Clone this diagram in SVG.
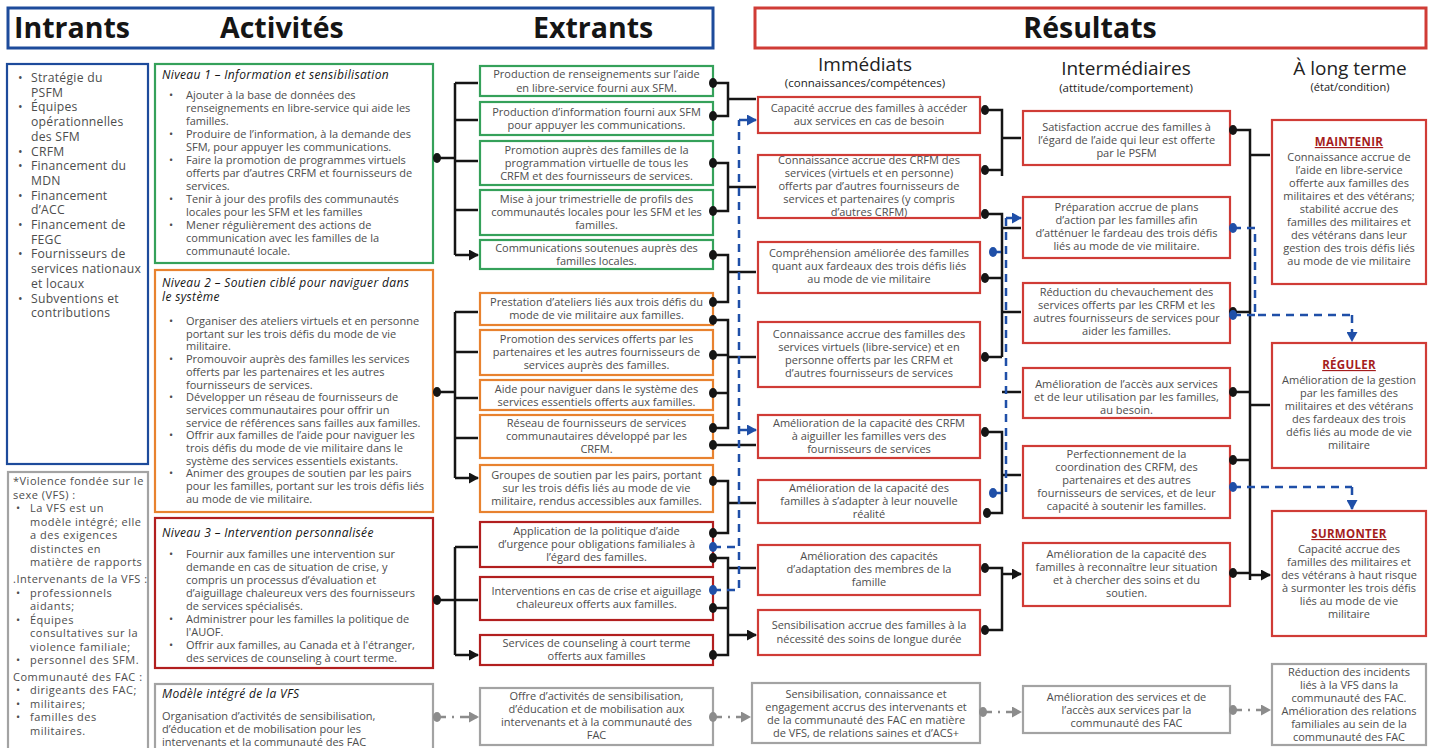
<svg xmlns="http://www.w3.org/2000/svg" width="1434" height="748" viewBox="0 0 1434 748">
<style>
text{font-family:"Open Sans","Liberation Sans",sans-serif;font-size:11px;fill:#4d4d4d}
.c{text-anchor:middle}
.hd{font-weight:700;font-size:28.5px;fill:#151515}
.sh{font-size:19px;fill:#222}
.ss{font-size:11.5px;fill:#222}
.ti{font-style:italic;font-size:12px;letter-spacing:0.35px;fill:#151515}
.in{font-size:12.2px;letter-spacing:0.25px}
.nt{font-size:11px;letter-spacing:0.5px}
.lt{font-weight:700;font-size:11.5px;letter-spacing:0.3px;fill:#a51d1d;text-decoration:underline}
.bx{fill:#fff;stroke-width:2.2}
.bl{stroke:#1d4b9b}.gn{stroke:#35a15a}.or{stroke:#e8822f}.dr{stroke:#b21f1f}.rd{stroke:#d03c36}.gy{stroke:#a3a3a3}
.ln{fill:none;stroke:#151515;stroke-width:2.5}
.ar{fill:none;stroke:#151515;stroke-width:2.5;marker-end:url(#ab)}
.bd{fill:none;stroke:#1f4fa8;stroke-width:2.5;stroke-dasharray:8 6}
.bda{fill:none;stroke:#1f4fa8;stroke-width:2.5;stroke-dasharray:8 6;marker-end:url(#abl)}
.gd{fill:none;stroke:#8c8c8c;stroke-width:2.5;stroke-dasharray:9 6 2 6;marker-end:url(#agr)}
.dk{fill:#151515}.db{fill:#1f4fa8}.dg{fill:#8c8c8c}
</style>
<defs>
<marker id="ab" markerUnits="userSpaceOnUse" markerWidth="10" markerHeight="11" refX="9" refY="5.5" orient="auto"><path d="M0,0 L10,5.5 L0,11 z" fill="#151515"/></marker>
<marker id="abl" markerUnits="userSpaceOnUse" markerWidth="10" markerHeight="11" refX="9" refY="5.5" orient="auto"><path d="M0,0 L10,5.5 L0,11 z" fill="#1f4fa8"/></marker>
<marker id="agr" markerUnits="userSpaceOnUse" markerWidth="10" markerHeight="11" refX="9" refY="5.5" orient="auto"><path d="M0,0 L10,5.5 L0,11 z" fill="#8c8c8c"/></marker>
</defs>
<rect width="1434" height="748" fill="#fff"/>

<g id="headers">
<rect x="8" y="8" width="705" height="40" fill="#fff" stroke="#1d4b9b" stroke-width="3"/>
<text class="hd" x="14" y="38">Intrants</text>
<text class="hd" x="220" y="38">Activités</text>
<text class="hd" x="533" y="38">Extrants</text>
<rect x="755" y="8" width="671" height="40" fill="#fff" stroke="#d03c36" stroke-width="3"/>
<text class="hd c" x="1090" y="38">Résultats</text>
<text class="sh c" x="865" y="71">Immédiats</text>
<text class="ss c" x="865" y="87">(connaissances/compétences)</text>
<text class="sh c" x="1126" y="75">Intermédiaires</text>
<text class="ss c" x="1126" y="92">(attitude/comportement)</text>
<text class="sh c" x="1350" y="75">À long terme</text>
<text class="ss c" x="1350" y="91" style="font-size:11px">(état/condition)</text>
</g>

<g id="intrants">
<rect class="bx bl" x="7" y="64" width="141" height="400"/>
<text class="in"><tspan x="18" y="82">•</tspan><tspan x="31" y="82">Stratégie du</tspan><tspan x="31" y="96.7">PSFM</tspan>
<tspan x="18" y="111.4">•</tspan><tspan x="31" y="111.4">Équipes</tspan><tspan x="31" y="126.1">opérationnelles</tspan><tspan x="31" y="140.8">des SFM</tspan>
<tspan x="18" y="155.5">•</tspan><tspan x="31" y="155.5">CRFM</tspan>
<tspan x="18" y="170.2">•</tspan><tspan x="31" y="170.2">Financement du</tspan><tspan x="31" y="184.9">MDN</tspan>
<tspan x="18" y="199.6">•</tspan><tspan x="31" y="199.6">Financement</tspan><tspan x="31" y="214.3">d’ACC</tspan>
<tspan x="18" y="229">•</tspan><tspan x="31" y="229">Financement de</tspan><tspan x="31" y="243.7">FEGC</tspan>
<tspan x="18" y="258.4">•</tspan><tspan x="31" y="258.4">Fournisseurs de</tspan><tspan x="31" y="273.1">services nationaux</tspan><tspan x="31" y="287.8">et locaux</tspan>
<tspan x="18" y="302.5">•</tspan><tspan x="31" y="302.5">Subventions et</tspan><tspan x="31" y="317.2">contributions</tspan></text>
</g>

<g id="vfs-note">
<rect class="bx gy" x="8" y="472" width="140" height="280"/>
<text class="nt"><tspan x="13" y="485">*Violence fondée sur le</tspan><tspan x="13" y="498.5">sexe (VFS) :</tspan>
<tspan x="16" y="512">•</tspan><tspan x="30" y="512">La VFS est un</tspan><tspan x="30" y="525.5">modèle intégré; elle</tspan><tspan x="30" y="539">a des exigences</tspan><tspan x="30" y="552.5">distinctes en</tspan><tspan x="30" y="566">matière de rapports</tspan>
<tspan x="13" y="583">.Intervenants de la VFS :</tspan>
<tspan x="16" y="596.5">•</tspan><tspan x="30" y="596.5">professionnels</tspan><tspan x="30" y="610">aidants;</tspan>
<tspan x="16" y="623.5">•</tspan><tspan x="30" y="623.5">Équipes</tspan><tspan x="30" y="637">consultatives sur la</tspan><tspan x="30" y="650.5">violence familiale;</tspan>
<tspan x="16" y="664">•</tspan><tspan x="30" y="664">personnel des SFM.</tspan>
<tspan x="13" y="680.5">Communauté des FAC :</tspan>
<tspan x="16" y="694">•</tspan><tspan x="30" y="694">dirigeants des FAC;</tspan>
<tspan x="16" y="707.5">•</tspan><tspan x="30" y="707.5">militaires;</tspan>
<tspan x="16" y="721">•</tspan><tspan x="30" y="721">familles des</tspan><tspan x="30" y="734.5">militaires.</tspan></text>
</g>

<g id="niveau1">
<rect class="bx gn" x="155" y="64" width="278" height="199"/>
<text class="ti" x="162" y="79">Niveau 1 – Information et sensibilisation</text>
<text><tspan x="169" y="99">•</tspan><tspan x="186" y="99">Ajouter à la base de données des</tspan><tspan x="186" y="112">renseignements en libre-service qui aide les</tspan><tspan x="186" y="125">familles.</tspan>
<tspan x="169" y="138">•</tspan><tspan x="186" y="138">Produire de l’information, à la demande des</tspan><tspan x="186" y="151">SFM, pour appuyer les communications.</tspan>
<tspan x="169" y="164">•</tspan><tspan x="186" y="164">Faire la promotion de programmes virtuels</tspan><tspan x="186" y="177">offerts par d’autres CRFM et fournisseurs de</tspan><tspan x="186" y="190">services.</tspan>
<tspan x="169" y="203">•</tspan><tspan x="186" y="203">Tenir à jour des profils des communautés</tspan><tspan x="186" y="216">locales pour les SFM et les familles</tspan>
<tspan x="169" y="229">•</tspan><tspan x="186" y="229">Mener régulièrement des actions de</tspan><tspan x="186" y="242">communication avec les familles de la</tspan><tspan x="186" y="255">communauté locale.</tspan></text>
</g>

<g id="niveau2">
<rect class="bx or" x="155" y="270" width="278" height="242"/>
<text class="ti"><tspan x="162" y="286.5">Niveau 2 – Soutien ciblé pour naviguer dans</tspan><tspan x="162" y="301">le système</tspan></text>
<text><tspan x="169" y="325">•</tspan><tspan x="186" y="325">Organiser des ateliers virtuels et en personne</tspan><tspan x="186" y="337.7">portant sur les trois défis du mode de vie</tspan><tspan x="186" y="350.4">militaire.</tspan>
<tspan x="169" y="363.1">•</tspan><tspan x="186" y="363.1">Promouvoir auprès des familles les services</tspan><tspan x="186" y="375.8">offerts par les partenaires et les autres</tspan><tspan x="186" y="388.5">fournisseurs de services.</tspan>
<tspan x="169" y="401.2">•</tspan><tspan x="186" y="401.2">Développer un réseau de fournisseurs de</tspan><tspan x="186" y="413.9">services communautaires pour offrir un</tspan><tspan x="186" y="426.6">service de références sans failles aux familles.</tspan>
<tspan x="169" y="439.3">•</tspan><tspan x="186" y="439.3">Offrir aux familles de l’aide pour naviguer les</tspan><tspan x="186" y="452">trois défis du mode de vie militaire dans le</tspan><tspan x="186" y="464.7">système des services essentiels existants.</tspan>
<tspan x="169" y="477.4">•</tspan><tspan x="186" y="477.4">Animer des groupes de soutien par les pairs</tspan><tspan x="186" y="490.1">pour les familles, portant sur les trois défis liés</tspan><tspan x="186" y="502.8">au mode de vie militaire.</tspan></text>
</g>

<g id="niveau3">
<rect class="bx dr" x="155" y="518" width="278" height="150"/>
<text class="ti" x="162" y="537">Niveau 3 – Intervention personnalisée</text>
<text><tspan x="169" y="558">•</tspan><tspan x="186" y="558">Fournir aux familles une intervention sur</tspan><tspan x="186" y="571">demande en cas de situation de crise, y</tspan><tspan x="186" y="584">compris un processus d’évaluation et</tspan><tspan x="186" y="597">d’aiguillage chaleureux vers des fournisseurs</tspan><tspan x="186" y="610">de services spécialisés.</tspan>
<tspan x="169" y="623">•</tspan><tspan x="186" y="623">Administrer pour les familles la politique de</tspan><tspan x="186" y="636">l'AUOF.</tspan>
<tspan x="169" y="649">•</tspan><tspan x="186" y="649">Offrir aux familles, au Canada et à l'étranger,</tspan><tspan x="186" y="662">des services de counseling à court terme.</tspan></text>
</g>

<g id="vfs-activite">
<rect class="bx gy" x="155" y="684" width="278" height="70"/>
<text class="ti" x="162" y="698">Modèle intégré de la VFS</text>
<text><tspan x="162" y="720">Organisation d’activités de sensibilisation,</tspan><tspan x="162" y="733">d’éducation et de mobilisation pour les</tspan><tspan x="162" y="746">intervenants et la communauté des FAC</tspan></text>
</g>

<g id="extrants">
<g id="o1"><rect class="bx gn" x="480" y="66" width="233" height="30"/><text class="c"><tspan x="596.5" y="78">Production de renseignements sur l’aide</tspan><tspan x="596.5" y="91.5">en libre-service fourni aux SFM.</tspan></text></g>
<g id="o2"><rect class="bx gn" x="480" y="102" width="233" height="33"/><text class="c"><tspan x="596.5" y="116">Production d’information fourni aux SFM</tspan><tspan x="596.5" y="129">pour appuyer les communications.</tspan></text></g>
<g id="o3"><rect class="bx gn" x="480" y="141" width="233" height="44"/><text class="c"><tspan x="596.5" y="154">Promotion auprès des familles de la</tspan><tspan x="596.5" y="167">programmation virtuelle de tous les</tspan><tspan x="596.5" y="180">CRFM et des fournisseurs de services.</tspan></text></g>
<g id="o4"><rect class="bx gn" x="480" y="190" width="233" height="45"/><text class="c"><tspan x="596.5" y="203">Mise à jour trimestrielle de profils des</tspan><tspan x="596.5" y="216">communautés locales pour les SFM et les</tspan><tspan x="596.5" y="229">familles.</tspan></text></g>
<g id="o5"><rect class="bx gn" x="480" y="240" width="233" height="29"/><text class="c"><tspan x="596.5" y="252">Communications soutenues auprès des</tspan><tspan x="596.5" y="265">familles locales.</tspan></text></g>
<g id="o6"><rect class="bx or" x="480" y="293" width="233" height="32"/><text class="c"><tspan x="596.5" y="306">Prestation d’ateliers liés aux trois défis du</tspan><tspan x="596.5" y="319">mode de vie militaire aux familles.</tspan></text></g>
<g id="o7"><rect class="bx or" x="480" y="330" width="233" height="45"/><text class="c"><tspan x="596.5" y="343">Promotion des services offerts par les</tspan><tspan x="596.5" y="356">partenaires et les autres fournisseurs de</tspan><tspan x="596.5" y="369">services auprès des familles.</tspan></text></g>
<g id="o8"><rect class="bx or" x="480" y="380" width="233" height="30"/><text class="c"><tspan x="596.5" y="393">Aide pour naviguer dans le système des</tspan><tspan x="596.5" y="406">services essentiels offerts aux familles.</tspan></text></g>
<g id="o9"><rect class="bx or" x="480" y="415" width="233" height="43"/><text class="c"><tspan x="596.5" y="427">Réseau de fournisseurs de services</tspan><tspan x="596.5" y="440">communautaires développé par les</tspan><tspan x="596.5" y="453">CRFM.</tspan></text></g>
<g id="o10"><rect class="bx or" x="480" y="465" width="233" height="47"/><text class="c"><tspan x="596.5" y="479">Groupes de soutien par les pairs, portant</tspan><tspan x="596.5" y="492">sur les trois défis liés au mode de vie</tspan><tspan x="596.5" y="505">militaire, rendus accessibles aux familles.</tspan></text></g>
<g id="o11"><rect class="bx dr" x="480" y="522" width="233" height="45"/><text class="c"><tspan x="596.5" y="535">Application de la politique d’aide</tspan><tspan x="596.5" y="548">d’urgence pour obligations familiales à</tspan><tspan x="596.5" y="561">l’égard des familles.</tspan></text></g>
<g id="o12"><rect class="bx dr" x="480" y="577" width="233" height="43"/><text class="c"><tspan x="596.5" y="595">Interventions en cas de crise et aiguillage</tspan><tspan x="596.5" y="608">chaleureux offerts aux familles.</tspan></text></g>
<g id="o13"><rect class="bx dr" x="480" y="635" width="233" height="30"/><text class="c"><tspan x="596.5" y="647">Services de counseling à court terme</tspan><tspan x="596.5" y="660">offerts aux familles</tspan></text></g>
<g id="o14"><rect class="bx gy" x="480" y="688" width="233" height="57"/><text class="c"><tspan x="596.5" y="700">Offre d’activités de sensibilisation,</tspan><tspan x="596.5" y="713">d’éducation et de mobilisation aux</tspan><tspan x="596.5" y="726">intervenants et à la communauté des</tspan><tspan x="596.5" y="739">FAC</tspan></text></g>
</g>

<g id="immediats">
<g id="i1"><rect class="bx rd" x="758" y="97" width="222" height="36"/><text class="c"><tspan x="869" y="112">Capacité accrue des familles à accéder</tspan><tspan x="869" y="125">aux services en cas de besoin</tspan></text></g>
<g id="i2"><rect class="bx rd" x="758" y="155" width="222" height="63"/><text class="c"><tspan x="869" y="164">Connaissance accrue des CRFM des</tspan><tspan x="869" y="177">services (virtuels et en personne)</tspan><tspan x="869" y="190">offerts par d’autres fournisseurs de</tspan><tspan x="869" y="203">services et partenaires (y compris</tspan><tspan x="869" y="216">d’autres CRFM)</tspan></text></g>
<g id="i3"><rect class="bx rd" x="758" y="242" width="222" height="51"/><text class="c"><tspan x="869" y="257">Compréhension améliorée des familles</tspan><tspan x="869" y="270">quant aux fardeaux des trois défis liés</tspan><tspan x="869" y="283">au mode de vie militaire</tspan></text></g>
<g id="i4"><rect class="bx rd" x="758" y="322" width="222" height="65"/><text class="c"><tspan x="869" y="338">Connaissance accrue des familles des</tspan><tspan x="869" y="351">services virtuels (libre-service) et en</tspan><tspan x="869" y="364">personne offerts par les CRFM et</tspan><tspan x="869" y="377">d’autres fournisseurs de services</tspan></text></g>
<g id="i5"><rect class="bx rd" x="758" y="415" width="222" height="43"/><text class="c"><tspan x="869" y="427">Amélioration de la capacité des CRFM</tspan><tspan x="869" y="440">à aiguiller les familles vers des</tspan><tspan x="869" y="453">fournisseurs de services</tspan></text></g>
<g id="i6"><rect class="bx rd" x="758" y="480" width="222" height="43"/><text class="c"><tspan x="869" y="492">Amélioration de la capacité des</tspan><tspan x="869" y="505">familles à s’adapter à leur nouvelle</tspan><tspan x="869" y="518">réalité</tspan></text></g>
<g id="i7"><rect class="bx rd" x="758" y="545" width="222" height="50"/><text class="c"><tspan x="869" y="560">Amélioration des capacités</tspan><tspan x="869" y="573">d’adaptation des membres de la</tspan><tspan x="869" y="586">famille</tspan></text></g>
<g id="i8"><rect class="bx rd" x="758" y="610" width="222" height="45"/><text class="c"><tspan x="869" y="629">Sensibilisation accrue des familles à la</tspan><tspan x="869" y="643">nécessité des soins de longue durée</tspan></text></g>
<g id="i9"><rect class="bx gy" x="752" y="683" width="228" height="60"/><text class="c"><tspan x="866" y="698">Sensibilisation, connaissance et</tspan><tspan x="866" y="711">engagement accrus des intervenants et</tspan><tspan x="866" y="724">de la communauté des FAC en matière</tspan><tspan x="866" y="737">de VFS, de relations saines et d’ACS+</tspan></text></g>
</g>

<g id="intermediaires">
<g id="m1"><rect class="bx rd" x="1023" y="111" width="207" height="54"/><text class="c"><tspan x="1126.5" y="131">Satisfaction accrue des familles à</tspan><tspan x="1126.5" y="144">l’égard de l’aide qui leur est offerte</tspan><tspan x="1126.5" y="157">par le PSFM</tspan></text></g>
<g id="m2"><rect class="bx rd" x="1023" y="197" width="207" height="61"/><text class="c"><tspan x="1126.5" y="211">Préparation accrue de plans</tspan><tspan x="1126.5" y="224">d’action par les familles afin</tspan><tspan x="1126.5" y="237">d’atténuer le fardeau des trois défis</tspan><tspan x="1126.5" y="250">liés au mode de vie militaire.</tspan></text></g>
<g id="m3"><rect class="bx rd" x="1023" y="283" width="207" height="60"/><text class="c"><tspan x="1126.5" y="296">Réduction du chevauchement des</tspan><tspan x="1126.5" y="309">services offerts par les CRFM et les</tspan><tspan x="1126.5" y="322">autres fournisseurs de services pour</tspan><tspan x="1126.5" y="335">aider les familles.</tspan></text></g>
<g id="m4"><rect class="bx rd" x="1023" y="368" width="207" height="50"/><text class="c"><tspan x="1126.5" y="388">Amélioration de l’accès aux services</tspan><tspan x="1126.5" y="401">et de leur utilisation par les familles,</tspan><tspan x="1126.5" y="414">au besoin.</tspan></text></g>
<g id="m5"><rect class="bx rd" x="1023" y="446" width="207" height="72"/><text class="c"><tspan x="1126.5" y="458">Perfectionnement de la</tspan><tspan x="1126.5" y="471">coordination des CRFM, des</tspan><tspan x="1126.5" y="484">partenaires et des autres</tspan><tspan x="1126.5" y="497">fournisseurs de services, et de leur</tspan><tspan x="1126.5" y="510">capacité à soutenir les familles.</tspan></text></g>
<g id="m6"><rect class="bx rd" x="1023" y="543" width="207" height="63"/><text class="c"><tspan x="1126.5" y="558">Amélioration de la capacité des</tspan><tspan x="1126.5" y="571">familles à reconnaître leur situation</tspan><tspan x="1126.5" y="584">et à chercher des soins et du</tspan><tspan x="1126.5" y="597">soutien.</tspan></text></g>
<g id="m7"><rect class="bx gy" x="1023" y="686" width="207" height="47"/><text class="c"><tspan x="1126.5" y="701">Amélioration des services et de</tspan><tspan x="1126.5" y="714">l’accès aux services par la</tspan><tspan x="1126.5" y="727">communauté des FAC</tspan></text></g>
</g>

<g id="long-terme">
<g id="l1"><rect class="bx rd" x="1272" y="120" width="154" height="164"/><text class="lt c" x="1349" y="146">MAINTENIR</text><text class="c"><tspan x="1349" y="161">Connaissance accrue de</tspan><tspan x="1349" y="174">l’aide en libre-service</tspan><tspan x="1349" y="187">offerte aux familles des</tspan><tspan x="1349" y="200">militaires et des vétérans;</tspan><tspan x="1349" y="213">stabilité accrue des</tspan><tspan x="1349" y="226">familles des militaires et</tspan><tspan x="1349" y="239">des vétérans dans leur</tspan><tspan x="1349" y="252">gestion des trois défis liés</tspan><tspan x="1349" y="265">au mode de vie militaire</tspan></text></g>
<g id="l2"><rect class="bx rd" x="1272" y="343" width="154" height="125"/><text class="lt c" x="1349" y="369">RÉGULER</text><text class="c"><tspan x="1349" y="384">Amélioration de la gestion</tspan><tspan x="1349" y="397">par les familles des</tspan><tspan x="1349" y="410">militaires et des vétérans</tspan><tspan x="1349" y="423">des fardeaux des trois</tspan><tspan x="1349" y="436">défis liés au mode de vie</tspan><tspan x="1349" y="449">militaire</tspan></text></g>
<g id="l3"><rect class="bx rd" x="1272" y="511" width="154" height="125"/><text class="lt c" x="1349" y="538">SURMONTER</text><text class="c"><tspan x="1349" y="553">Capacité accrue des</tspan><tspan x="1349" y="566">familles des militaires et</tspan><tspan x="1349" y="579">des vétérans à haut risque</tspan><tspan x="1349" y="592">à surmonter les trois défis</tspan><tspan x="1349" y="605">liés au mode de vie</tspan><tspan x="1349" y="618">militaire</tspan></text></g>
<g id="l4"><rect class="bx gy" x="1272" y="664" width="154" height="81"/><text class="c"><tspan x="1349" y="676">Réduction des incidents</tspan><tspan x="1349" y="689">liés à la VFS dans la</tspan><tspan x="1349" y="702">communauté des FAC.</tspan><tspan x="1349" y="715">Amélioration des relations</tspan><tspan x="1349" y="728">familiales au sein de la</tspan><tspan x="1349" y="741">communauté des FAC</tspan></text></g>
</g>

<g id="connectors">
<path class="ln" d="M437,158 H455 M455,83 V255 M437,392 H455 M455,312 V478 M437,600 H455 M455,547 V655"/>
<path class="ar" d="M455,83 H478 M455,120 H478 M455,161 H478 M455,210 H478 M455,255 H478"/>
<path class="ar" d="M455,312 H478 M455,352 H478 M455,398 H478 M455,438 H478 M455,478 H478"/>
<path class="ar" d="M455,547 H478 M455,600 H478 M455,655 H478"/>
<path class="ln" d="M713,83 H728 V116 H713 M713,163 H728 V211 H713 M713,255 H728 V302 H713 M713,320 H728 V428 H713 M713,355 H728 M713,393 H728 M713,481 H728 V533 H713 M713,558 H728 V655 H713 M713,608 H728"/>
<path class="ar" d="M728,99 H756 M728,187 H756 M728,272 H756 M728,357 H756 M713,445 H756 M728,503 H756 M728,568 H756 M728,635 H756"/>
<path class="bd" d="M713,547 H739 M713,590 H739 V120"/>
<path class="bda" d="M739,120 H756"/>
<path class="bda" d="M739,430 H756"/>
<path class="ln" d="M985,110 H1002 V176 M985,170 H1002 M985,214 H1002 V357 M985,278 H1002 M985,357 H1002 M985,432 H1002 V513 H987 M985,568 H1002 V630 H985"/>
<path class="ar" d="M1002,138 H1021 M1002,228 H1021 M1002,312 H1021 M1002,392 H1021 M1002,475 H1021 M1002,574 H1021"/>
<path class="bd" d="M993,252 H1006 M993,493 H1006 V218"/>
<path class="bda" d="M1006,218 H1021"/>
<path class="ln" d="M1233,130 H1250 V580 M1233,312 H1250 M1233,392 H1250 M1233,460 H1250 M1233,573 H1250"/>
<path class="ar" d="M1250,155 H1270 M1250,405 H1270 M1250,575 H1270"/>
<path class="bd" d="M1233,228 H1255 V315 H1352 M1233,315 H1255 M1233,487 H1352"/>
<path class="bda" d="M1352,315 V341"/>
<path class="bda" d="M1352,487 V509"/>
<path class="gd" d="M437,717 H478"/>
<path class="gd" d="M713,717 H750"/>
<path class="gd" d="M983,712 H1021"/>
<path class="gd" d="M1233,710 H1270"/>
</g>
<g id="dots">
<ellipse class="dk" cx="437" cy="158" rx="4" ry="5"/><ellipse class="dk" cx="437" cy="392" rx="4" ry="5"/><ellipse class="dk" cx="437" cy="600" rx="4" ry="5"/>
<ellipse class="dk" cx="713" cy="83" rx="4" ry="5"/><ellipse class="dk" cx="713" cy="116" rx="4" ry="5"/><ellipse class="dk" cx="713" cy="163" rx="4" ry="5"/><ellipse class="dk" cx="713" cy="211" rx="4" ry="5"/><ellipse class="dk" cx="713" cy="255" rx="4" ry="5"/><ellipse class="dk" cx="713" cy="302" rx="4" ry="5"/><ellipse class="dk" cx="713" cy="320" rx="4" ry="5"/><ellipse class="dk" cx="713" cy="355" rx="4" ry="5"/><ellipse class="dk" cx="713" cy="393" rx="4" ry="5"/><ellipse class="dk" cx="713" cy="428" rx="4" ry="5"/><ellipse class="dk" cx="713" cy="445" rx="4" ry="5"/><ellipse class="dk" cx="713" cy="481" rx="4" ry="5"/><ellipse class="dk" cx="713" cy="533" rx="4" ry="5"/><ellipse class="dk" cx="713" cy="558" rx="4" ry="5"/><ellipse class="dk" cx="713" cy="608" rx="4" ry="5"/><ellipse class="dk" cx="713" cy="655" rx="4" ry="5"/>
<ellipse class="db" cx="713" cy="547" rx="4" ry="5"/><ellipse class="db" cx="713" cy="590" rx="4" ry="5"/>
<ellipse class="dk" cx="985" cy="110" rx="4" ry="5"/><ellipse class="dk" cx="985" cy="170" rx="4" ry="5"/><ellipse class="dk" cx="985" cy="214" rx="4" ry="5"/><ellipse class="dk" cx="985" cy="278" rx="4" ry="5"/><ellipse class="dk" cx="985" cy="357" rx="4" ry="5"/><ellipse class="dk" cx="985" cy="432" rx="4" ry="5"/><ellipse class="dk" cx="987" cy="513" rx="4" ry="5"/><ellipse class="dk" cx="985" cy="568" rx="4" ry="5"/><ellipse class="dk" cx="985" cy="630" rx="4" ry="5"/>
<ellipse class="db" cx="993" cy="252" rx="4" ry="5"/><ellipse class="db" cx="993" cy="493" rx="4" ry="5"/>
<ellipse class="dk" cx="1233" cy="130" rx="4" ry="5"/><ellipse class="dk" cx="1233" cy="312" rx="4" ry="5"/><ellipse class="dk" cx="1233" cy="392" rx="4" ry="5"/><ellipse class="dk" cx="1233" cy="460" rx="4" ry="5"/><ellipse class="dk" cx="1233" cy="573" rx="4" ry="5"/>
<ellipse class="db" cx="1233" cy="228" rx="4" ry="5"/><ellipse class="db" cx="1233" cy="315" rx="4" ry="5"/><ellipse class="db" cx="1233" cy="487" rx="4" ry="5"/>
<ellipse class="dg" cx="437" cy="717" rx="4" ry="5"/><ellipse class="dg" cx="713" cy="717" rx="4" ry="5"/><ellipse class="dg" cx="983" cy="712" rx="4" ry="5"/><ellipse class="dg" cx="1233" cy="710" rx="4" ry="5"/>
</g>
</svg>
